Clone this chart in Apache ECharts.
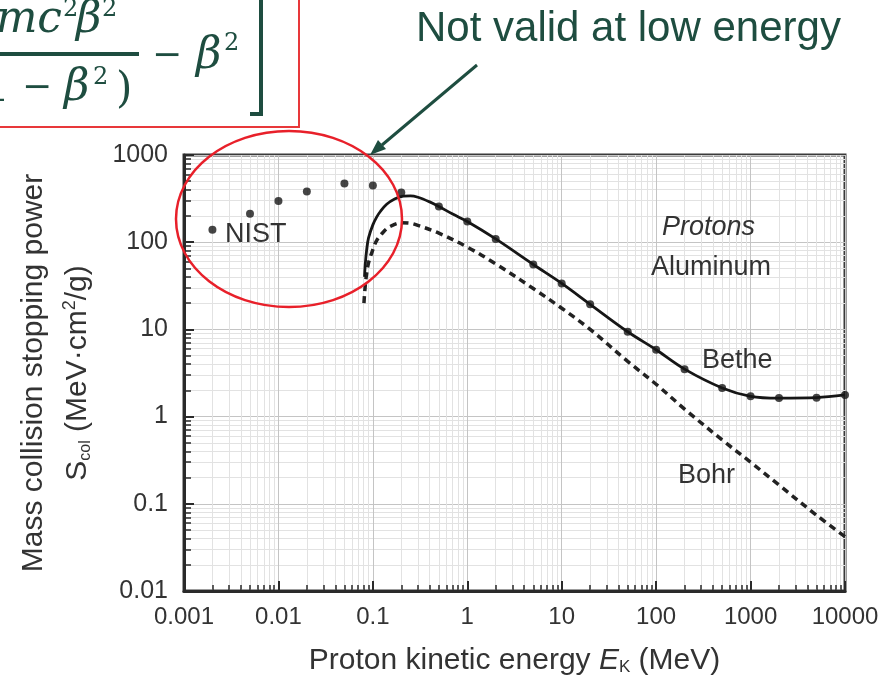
<!DOCTYPE html>
<html>
<head>
<meta charset="utf-8">
<script src="https://cdn.jsdelivr.net/npm/echarts@6/dist/echarts.min.js"></script>
<style>
  html, body { margin: 0; padding: 0; background: #fff; }
  #chart { width: 886px; height: 681px; }
</style>
</head>
<body>
<div id="chart"></div>
<script>
// NIST tabulated points (MeV, MeV·cm2/g)
const nistEnergy = [0.002, 0.005, 0.01, 0.02, 0.05, 0.1, 0.2, 0.5, 1, 2, 5, 10, 20, 50, 100, 200, 500, 1000, 2000, 5000, 10000]
const nistPower = [139, 212, 296, 381, 470, 446, 371, 257, 173, 109, 55.5, 33.7, 19.4, 9.4, 5.84, 3.5, 2.13, 1.71, 1.63, 1.65, 1.77]

// Bethe curve (solid)
const betheEnergy = [0.0816, 0.083, 0.086, 0.09, 0.1, 0.11, 0.12, 0.14, 0.17, 0.21, 0.25, 0.3, 0.4, 0.5, 0.7, 1, 2, 5, 10, 20, 50, 100, 200, 500, 1000, 2000, 5000, 10000]
const bethePower = [40, 55, 82, 112, 158, 195, 225, 272, 313, 337, 340, 328, 290, 257, 210, 173, 109, 55.5, 33.7, 19.4, 9.4, 5.84, 3.5, 2.13, 1.71, 1.63, 1.65, 1.77]

// Bohr curve (dashed)
const bohrEnergy = [0.0805, 0.082, 0.085, 0.09, 0.1, 0.11, 0.13, 0.15, 0.2, 0.25, 0.3, 0.5, 1, 2, 5, 10, 20, 50, 100, 200, 500, 1000, 2000, 5000, 10000]
const bohrPower = [20, 27, 40, 58, 82, 105, 132, 150, 167, 165, 156, 127, 88, 56.5, 29.4, 17.5, 10, 4.3, 2.35, 1.22, 0.54, 0.30, 0.164, 0.074, 0.042]

// tick labels
const xTickLabels = ['0.001', '0.01', '0.1', '1', '10', '100', '1000', '10000']
const yTickLabels = ['0.01', '0.1', '1', '10', '100', '1000']

const ink = '#1e4d40'
const textGray = '#333'
const font = 'Liberation Sans, Arial, sans-serif'
const mathFont = 'DejaVu Serif, serif'

const pairs = (xs, ys) => xs.map((x, i) => [x, ys[i]])

// formula pieces, bottom-anchored
const mathText = (x, y, text, size, opts = {}) => ({
  type: 'text',
  z: 20,
  silent: true,
  style: Object.assign({
    x, y, text,
    font: 'italic ' + size + 'px ' + mathFont,
    fill: ink,
    textAlign: 'left',
    textVerticalAlign: 'bottom',
  }, opts),
})
const upright = (size) => ({ font: size + 'px ' + mathFont })

const chart = echarts.init(document.getElementById('chart'))

const option = {
  animation: false,
  backgroundColor: '#fff',
  grid: {
    left: 184,
    right: 41,
    top: 155,
    bottom: 88,
    show: true,
    borderColor: '#3a3a3a',
    borderWidth: 3,
  },
  xAxis: {
    type: 'log',
    logBase: 10,
    min: 0.001,
    max: 10000,
    interval: 1,
    name: 'Proton kinetic energy {it|E}{sub|K} (MeV)',
    nameLocation: 'middle',
    nameGap: 54,
    nameTextStyle: {
      color: textGray,
      fontFamily: font,
      fontSize: 30,
      rich: {
        it: { fontStyle: 'italic', fontSize: 30, color: textGray, fontFamily: font },
        sub: { fontSize: 17, color: textGray, fontFamily: font, verticalAlign: 'bottom', padding: [14, 0, 0, 0] },
      },
    },
    axisLine: { lineStyle: { color: '#2a2a2a', width: 3 } },
    axisTick: { inside: true, length: 10, lineStyle: { color: '#2a2a2a', width: 2 } },
    minorTick: { show: true, splitNumber: 9, length: 6, lineStyle: { color: '#2a2a2a', width: 1.5 } },
    axisLabel: {
      color: textGray,
      fontFamily: font,
      fontSize: 24,
      margin: 14,
      formatter: (v) => xTickLabels[Math.round(Math.log10(v)) + 3],
    },
    splitLine: { show: true, lineStyle: { color: '#c4c4c4', width: 1 } },
    minorSplitLine: { show: true, lineStyle: { color: '#e2e2e2', width: 1 } },
  },
  yAxis: {
    type: 'log',
    logBase: 10,
    min: 0.01,
    max: 1000,
    interval: 1,
    name: 'Mass collision stopping power\nS{sub|col} (MeV·cm{sup|2}/g)',
    nameLocation: 'middle',
    nameRotate: 90,
    nameGap: 84,
    nameTextStyle: {
      color: textGray,
      fontFamily: font,
      fontSize: 30,
      lineHeight: 44,
      rich: {
        sub: { fontSize: 16, color: textGray, fontFamily: font, verticalAlign: 'middle', padding: [16, 0, 0, 0] },
        sup: { fontSize: 18, color: textGray, fontFamily: font, verticalAlign: 'middle', padding: [0, 0, 16, 0] },
      },
    },
    axisLine: { lineStyle: { color: '#2a2a2a', width: 3 } },
    axisTick: { inside: true, length: 10, lineStyle: { color: '#2a2a2a', width: 2 } },
    minorTick: { show: true, splitNumber: 9, length: 7, lineStyle: { color: '#2a2a2a', width: 1.5 } },
    axisLabel: {
      color: textGray,
      fontFamily: font,
      fontSize: 25,
      margin: 16,
      formatter: (v) => yTickLabels[Math.round(Math.log10(v)) + 2],
    },
    splitLine: { show: true, lineStyle: { color: '#c4c4c4', width: 1 } },
    minorSplitLine: { show: true, lineStyle: { color: '#e2e2e2', width: 1 } },
  },
  series: [
    {
      name: 'Bohr',
      type: 'line',
      data: pairs(bohrEnergy, bohrPower),
      showSymbol: false,
      smooth: 0.35,
      lineStyle: { color: '#222', width: 3.5, type: [7, 5] },
      z: 3,
    },
    {
      name: 'Bethe',
      type: 'line',
      data: pairs(betheEnergy, bethePower),
      showSymbol: false,
      smooth: 0.35,
      lineStyle: { color: '#161616', width: 2.8 },
      z: 4,
    },
    {
      name: 'NIST',
      type: 'scatter',
      data: pairs(nistEnergy, nistPower),
      symbol: 'circle',
      symbolSize: 8,
      itemStyle: { color: '#161616' },
      z: 5,
    },
  ],
  graphic: [
    // labels inside the plot
    { type: 'text', left: 225, top: 221, z: 10, style: { text: 'NIST', font: '27px ' + font, fill: textGray } },
    { type: 'text', left: 662, top: 214, z: 10, style: { text: 'Protons', font: 'italic 27px ' + font, fill: textGray } },
    { type: 'text', left: 651, top: 254, z: 10, style: { text: 'Aluminum', font: '27px ' + font, fill: textGray } },
    { type: 'text', left: 702, top: 347, z: 10, style: { text: 'Bethe', font: '27px ' + font, fill: textGray } },
    { type: 'text', left: 678, top: 462, z: 10, style: { text: 'Bohr', font: '27px ' + font, fill: textGray } },
    // red ellipse around the low-energy region
    {
      type: 'ellipse', z: 20, silent: true,
      shape: { cx: 289, cy: 219, rx: 113, ry: 88 },
      style: { fill: 'none', stroke: '#e8202a', lineWidth: 2.5 },
    },
    // callout
    { type: 'text', left: 416, top: 8, z: 20, style: { text: 'Not valid at low energy', font: '42px ' + font, fill: ink } },
    {
      type: 'line', z: 20, silent: true,
      shape: { x1: 477, y1: 65, x2: 382, y2: 145 },
      style: { stroke: ink, lineWidth: 3 },
    },
    {
      type: 'polygon', z: 20, silent: true,
      shape: { points: [[370, 155], [386, 149], [378, 140]] },
      style: { fill: ink },
    },
    // formula fragment in the red box
    {
      type: 'rect', z: 20, silent: true,
      shape: { x: -6, y: -6, width: 305, height: 133 },
      style: { fill: 'none', stroke: '#e8383a', lineWidth: 2 },
    },
    // numerator  m c^2 beta^2
    mathText(62, 43, 'mc', 44, { textAlign: 'right' }),
    mathText(63, 22, '2', 24, upright(24)),
    mathText(76, 43, 'β', 44),
    mathText(102, 22, '2', 24, upright(24)),
    // fraction bar
    {
      type: 'line', z: 20, silent: true,
      shape: { x1: 0, y1: 54, x2: 139, y2: 54 },
      style: { stroke: ink, lineWidth: 4 },
    },
    // denominator  (1 - beta^2)
    mathText(10, 111, '1', 42, Object.assign({ textAlign: 'right' }, upright(42))),
    mathText(22, 107, '−', 36, upright(36)),
    mathText(64, 111, 'β', 44),
    mathText(93, 90, '2', 24, upright(24)),
    mathText(116, 112, ')', 42, upright(42)),
    // - beta^2
    mathText(152, 75, '−', 36, upright(36)),
    mathText(196, 79, 'β', 44),
    mathText(224, 56, '2', 24, upright(24)),
    // closing bracket
    {
      type: 'polyline', z: 20, silent: true,
      shape: { points: [[261, -2], [261, 114], [250, 114]] },
      style: { stroke: ink, lineWidth: 4, fill: 'none' },
    },
  ],
}

chart.setOption(option)
</script>
</body>
</html>
